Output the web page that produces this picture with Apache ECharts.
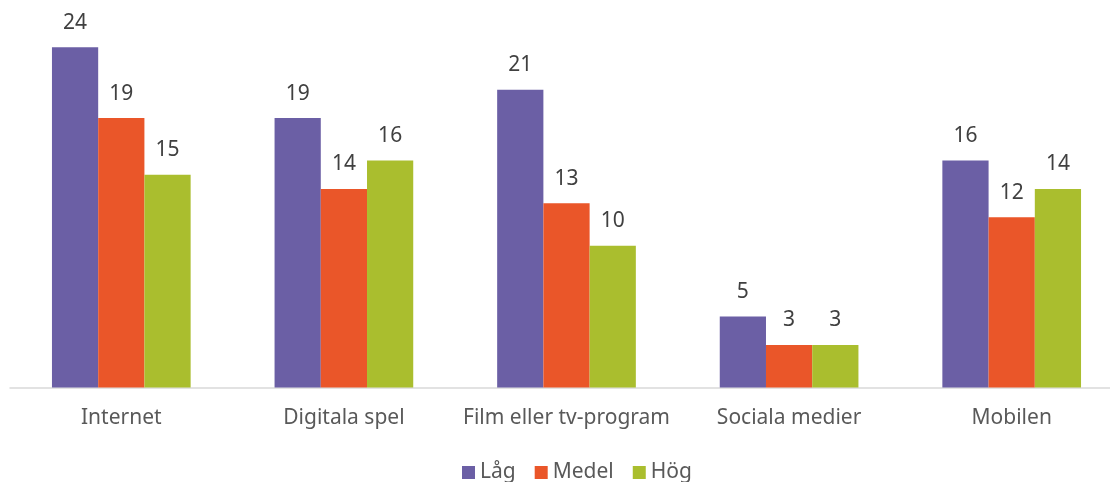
<!DOCTYPE html>
<html>
<head>
<meta charset="utf-8">
<script src="https://cdn.jsdelivr.net/npm/echarts@6/dist/echarts.min.js"></script>
<style>html,body{margin:0;padding:0;background:#fff;overflow:hidden;width:1110px;height:482px}#c{width:1123px;height:482px}</style>
</head>
<body>
<div id="c"></div>
<script>
const categories = ['Internet', 'Digitala spel', 'Film eller tv-program', 'Sociala medier', 'Mobilen'];
const seriesNames = ['Låg', 'Medel', 'Hög'];
const lag = [24, 19, 21, 5, 16];
const medel = [19, 14, 13, 3, 12];
const hog = [15, 16, 10, 3, 14];
const colors = ['#6B5FA5', '#EA5629', '#AABE2E'];

const font = '"Noto Sans", "Open Sans", sans-serif';
const values = [lag, medel, hog];

const chart = echarts.init(document.getElementById('c'), null, {renderer: 'canvas'});
chart.setOption({
  animation: false,
  color: colors,
  grid: {left: 10, right: 0, top: 33, height: 354.5, containLabel: false},
  legend: {
    top: 457,
    left: 457,
    itemWidth: 13,
    itemHeight: 13,
    itemGap: 19,
    icon: 'rect',
    textStyle: {fontFamily: font, fontSize: 21, color: '#595959'},
    data: seriesNames
  },
  xAxis: {
    type: 'category',
    data: categories,
    axisLine: {lineStyle: {color: '#D9D9D9', width: 1.5}},
    axisTick: {show: false},
    axisLabel: {interval: 0, fontFamily: font, fontSize: 21, color: '#595959', margin: 20}
  },
  yAxis: {
    type: 'value',
    min: 0,
    max: 25,
    show: false,
    splitLine: {show: false}
  },
  series: seriesNames.map((n, i) => ({
    name: n,
    type: 'bar',
    data: values[i],
    barGap: '0%',
    barCategoryGap: '37.7%',
    label: {
      show: true,
      position: 'top',
      distance: 14,
      fontFamily: font,
      fontSize: 21,
      color: '#404040'
    }
  }))
});
</script>
</body>
</html>
